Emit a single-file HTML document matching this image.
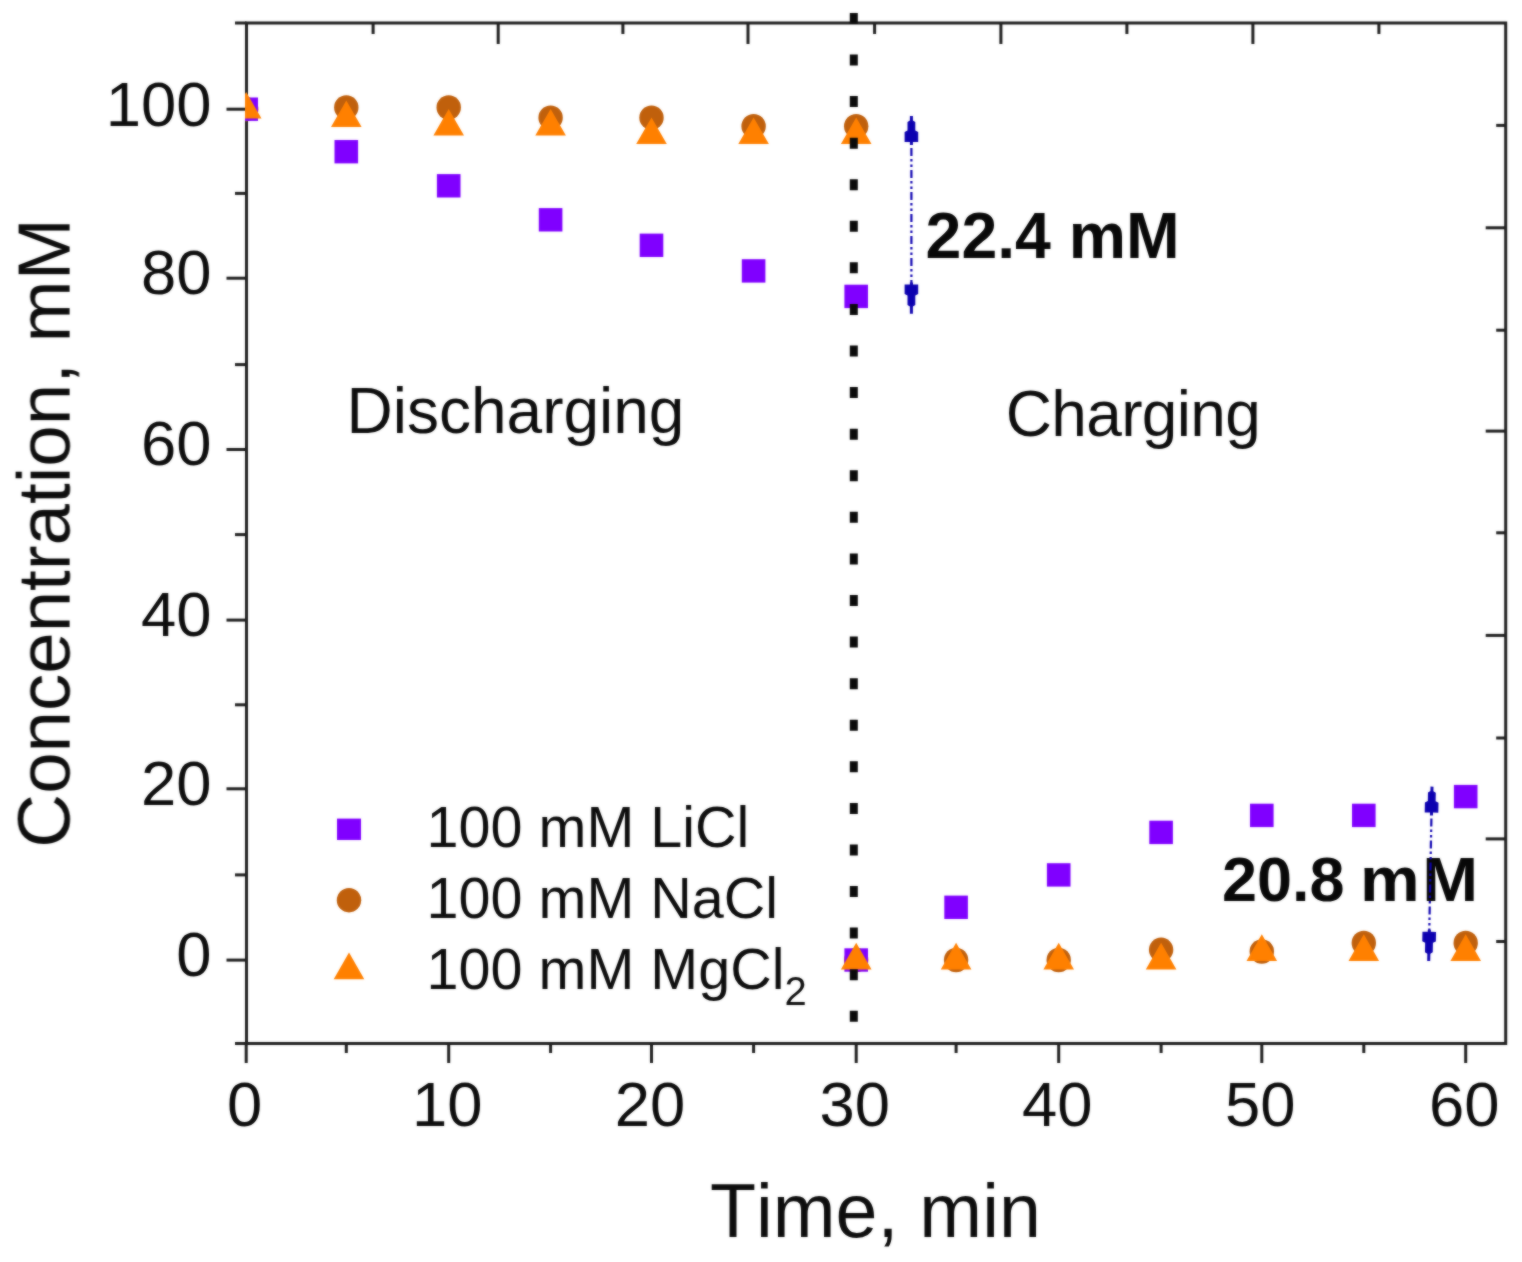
<!DOCTYPE html>
<html lang="en"><head><meta charset="utf-8"><title>Concentration vs Time</title>
<style>
html,body{margin:0;padding:0;background:#fff;}
body{width:1522px;height:1262px;overflow:hidden;}
svg{display:block;}
text{font-kerning:none;font-family:"Liberation Sans",Arial,Helvetica,sans-serif;fill:#0d0d0d;}
.tick{font-size:63.4px;}
.title{font-size:74.5px;}
.ann{font-size:64px;}
.bold{font-size:64.4px;font-weight:bold;fill:#080808;}
.leg{font-size:57.5px;}
</style></head><body>
<svg width="1522" height="1262" viewBox="0 0 1522 1262">
<rect width="1522" height="1262" fill="#ffffff"/>
<defs><filter id="soft" color-interpolation-filters="sRGB" x="0" y="0" width="1522" height="1262" filterUnits="userSpaceOnUse"><feGaussianBlur in="SourceGraphic" stdDeviation="0.9" result="b"/><feComposite in="b" in2="SourceGraphic" operator="arithmetic" k1="0" k2="0.55" k3="0.45" k4="0"/></filter><clipPath id="plot"><rect x="245.0" y="23.0" width="1260.7" height="1020.5"/></clipPath></defs>
<g filter="url(#soft)">

<g stroke="#1e1e1e" stroke-width="3" fill="none" stroke-linecap="butt">
<rect x="246.5" y="23.0" width="1259.2" height="1020.5"/>
<line x1="235.0" y1="1043.5" x2="246.5" y2="1043.5"/>
<line x1="226.5" y1="960.1" x2="246.5" y2="960.1"/>
<line x1="235.0" y1="874.9" x2="246.5" y2="874.9"/>
<line x1="226.5" y1="788.8" x2="246.5" y2="788.8"/>
<line x1="235.0" y1="704.8" x2="246.5" y2="704.8"/>
<line x1="226.5" y1="620.1" x2="246.5" y2="620.1"/>
<line x1="235.0" y1="534.6" x2="246.5" y2="534.6"/>
<line x1="226.5" y1="449.5" x2="246.5" y2="449.5"/>
<line x1="235.0" y1="364.6" x2="246.5" y2="364.6"/>
<line x1="226.5" y1="278.2" x2="246.5" y2="278.2"/>
<line x1="235.0" y1="193.4" x2="246.5" y2="193.4"/>
<line x1="226.5" y1="109.2" x2="246.5" y2="109.2"/>
<line x1="235.0" y1="23.0" x2="246.5" y2="23.0"/>
<line x1="246.2" y1="1043.5" x2="246.2" y2="1063.0"/>
<line x1="346.3" y1="1043.5" x2="346.3" y2="1053.0"/>
<line x1="448.7" y1="1043.5" x2="448.7" y2="1063.0"/>
<line x1="550.6" y1="1043.5" x2="550.6" y2="1053.0"/>
<line x1="651.5" y1="1043.5" x2="651.5" y2="1063.0"/>
<line x1="753.6" y1="1043.5" x2="753.6" y2="1053.0"/>
<line x1="856.2" y1="1043.5" x2="856.2" y2="1063.0"/>
<line x1="956.1" y1="1043.5" x2="956.1" y2="1053.0"/>
<line x1="1058.7" y1="1043.5" x2="1058.7" y2="1063.0"/>
<line x1="1161.1" y1="1043.5" x2="1161.1" y2="1053.0"/>
<line x1="1261.8" y1="1043.5" x2="1261.8" y2="1063.0"/>
<line x1="1363.8" y1="1043.5" x2="1363.8" y2="1053.0"/>
<line x1="1465.7" y1="1043.5" x2="1465.7" y2="1063.0"/>
<line x1="373.1" y1="23.0" x2="373.1" y2="34.0"/>
<line x1="498.2" y1="23.0" x2="498.2" y2="44.0"/>
<line x1="622.9" y1="23.0" x2="622.9" y2="34.0"/>
<line x1="748.0" y1="23.0" x2="748.0" y2="44.0"/>
<line x1="874.6" y1="23.0" x2="874.6" y2="34.0"/>
<line x1="1000.9" y1="23.0" x2="1000.9" y2="44.0"/>
<line x1="1126.9" y1="23.0" x2="1126.9" y2="34.0"/>
<line x1="1252.9" y1="23.0" x2="1252.9" y2="44.0"/>
<line x1="1378.9" y1="23.0" x2="1378.9" y2="34.0"/>
<line x1="1496.2" y1="125.4" x2="1505.7" y2="125.4"/>
<line x1="1485.7" y1="227.8" x2="1505.7" y2="227.8"/>
<line x1="1496.2" y1="330.2" x2="1505.7" y2="330.2"/>
<line x1="1485.7" y1="431.1" x2="1505.7" y2="431.1"/>
<line x1="1496.2" y1="532.8" x2="1505.7" y2="532.8"/>
<line x1="1485.7" y1="635.4" x2="1505.7" y2="635.4"/>
<line x1="1496.2" y1="738.0" x2="1505.7" y2="738.0"/>
<line x1="1485.7" y1="838.9" x2="1505.7" y2="838.9"/>
<line x1="1496.2" y1="941.5" x2="1505.7" y2="941.5"/>
</g>
<g clip-path="url(#plot)">
<circle cx="246.2" cy="109.2" r="12.2" fill="#c0600c"/>
<circle cx="346.3" cy="107.5" r="12.2" fill="#c0600c"/>
<circle cx="448.7" cy="107.5" r="12.2" fill="#c0600c"/>
<circle cx="550.6" cy="117.7" r="12.2" fill="#c0600c"/>
<circle cx="651.5" cy="117.7" r="12.2" fill="#c0600c"/>
<circle cx="753.6" cy="126.2" r="12.2" fill="#c0600c"/>
<circle cx="856.2" cy="126.2" r="12.2" fill="#c0600c"/>
<circle cx="856.2" cy="960.0" r="12.2" fill="#c0600c"/>
<circle cx="956.1" cy="960.0" r="12.2" fill="#c0600c"/>
<circle cx="1058.7" cy="960.0" r="12.2" fill="#c0600c"/>
<circle cx="1161.1" cy="949.8" r="12.2" fill="#c0600c"/>
<circle cx="1261.8" cy="951.5" r="12.2" fill="#c0600c"/>
<circle cx="1363.8" cy="943.0" r="12.2" fill="#c0600c"/>
<circle cx="1465.7" cy="943.0" r="12.2" fill="#c0600c"/>
<rect x="234.4" y="97.5" width="23.6" height="23.4" fill="#8000ff"/>
<rect x="334.5" y="140.0" width="23.6" height="23.4" fill="#8000ff"/>
<rect x="436.9" y="174.1" width="23.6" height="23.4" fill="#8000ff"/>
<rect x="538.8" y="208.1" width="23.6" height="23.4" fill="#8000ff"/>
<rect x="639.7" y="233.6" width="23.6" height="23.4" fill="#8000ff"/>
<rect x="741.8" y="259.2" width="23.6" height="23.4" fill="#8000ff"/>
<rect x="844.4" y="284.7" width="23.6" height="23.4" fill="#8000ff"/>
<rect x="844.4" y="948.3" width="23.6" height="23.4" fill="#8000ff"/>
<rect x="944.3" y="895.6" width="23.6" height="23.4" fill="#8000ff"/>
<rect x="1046.9" y="863.2" width="23.6" height="23.4" fill="#8000ff"/>
<rect x="1149.3" y="820.7" width="23.6" height="23.4" fill="#8000ff"/>
<rect x="1250.0" y="803.7" width="23.6" height="23.4" fill="#8000ff"/>
<rect x="1352.0" y="803.7" width="23.6" height="23.4" fill="#8000ff"/>
<rect x="1453.9" y="784.9" width="23.6" height="23.4" fill="#8000ff"/>
<polygon points="246.2,92.0 230.9,118.6 261.5,118.6" fill="#ff8000"/>
<polygon points="346.3,100.5 331.0,127.1 361.6,127.1" fill="#ff8000"/>
<polygon points="448.7,109.0 433.4,135.6 464.0,135.6" fill="#ff8000"/>
<polygon points="550.6,109.0 535.3,135.6 565.9,135.6" fill="#ff8000"/>
<polygon points="651.5,117.5 636.2,144.1 666.8,144.1" fill="#ff8000"/>
<polygon points="753.6,117.5 738.3,144.1 768.9,144.1" fill="#ff8000"/>
<polygon points="856.2,117.5 840.9,144.1 871.5,144.1" fill="#ff8000"/>
<polygon points="856.2,942.8 840.9,969.4 871.5,969.4" fill="#ff8000"/>
<polygon points="956.1,942.8 940.8,969.4 971.4,969.4" fill="#ff8000"/>
<polygon points="1058.7,942.8 1043.4,969.4 1074.0,969.4" fill="#ff8000"/>
<polygon points="1161.1,942.8 1145.8,969.4 1176.4,969.4" fill="#ff8000"/>
<polygon points="1261.8,934.3 1246.5,960.9 1277.1,960.9" fill="#ff8000"/>
<polygon points="1363.8,934.3 1348.5,960.9 1379.1,960.9" fill="#ff8000"/>
<polygon points="1465.7,934.3 1450.4,960.9 1481.0,960.9" fill="#ff8000"/>
</g>
<line x1="853.8" y1="12.9" x2="853.8" y2="1021.9" stroke="#0a0a0a" stroke-width="8" stroke-dasharray="11 30.578"/>
<text class="ann" x="346.5" y="432.5">Discharging</text>
<text class="ann" x="1005.7" y="436.4" letter-spacing="-0.65">Charging</text>
<text class="bold" x="925.6" y="258.3">22.4 mM</text>
<text class="bold" x="1221.9" y="900.6" style="font-size:63px">20.8</text>
<text class="bold" transform="translate(1360,900.6) scale(1.065,1)" style="font-size:63px">m</text>
<text class="bold" transform="translate(1422.2,900.6) scale(1.065,1)" style="font-size:63px">M</text>
<g transform="translate(911.4,116) rotate(0.000)"><line x1="0" y1="32" x2="0" y2="169.8" stroke="#0c00b0" stroke-width="2.2" stroke-dasharray="8 3 2.5 3 2.5 3"/><polygon fill="#0c00b0" points="-1.5,0.0 1.5,0.0 1.5,4.5 3.9,6.0 3.9,14.5 6.8,16.0 6.8,26.0 1.5,26.0 1.5,29.0 -1.5,29.0 -1.5,26.0 -6.8,26.0 -6.8,16.0 -3.9,14.5 -3.9,6.0 -1.5,4.5"/><polygon fill="#0c00b0" points="-1.5,197.8 1.5,197.8 1.5,190.6 3.9,189.1 3.9,179.6 6.8,178.1 6.8,168.6 1.5,168.6 1.5,166.6 -1.5,166.6 -1.5,168.6 -6.8,168.6 -6.8,178.1 -3.9,179.6 -3.9,189.1 -1.5,190.6"/></g>
<g transform="translate(1432,786.6) rotate(1.084)"><line x1="0" y1="32" x2="0" y2="146.4" stroke="#0c00b0" stroke-width="2.2" stroke-dasharray="8 3 2.5 3 2.5 3"/><polygon fill="#0c00b0" points="-1.5,0.0 1.5,0.0 1.5,4.5 3.9,6.0 3.9,14.5 6.8,16.0 6.8,26.0 1.5,26.0 1.5,29.0 -1.5,29.0 -1.5,26.0 -6.8,26.0 -6.8,16.0 -3.9,14.5 -3.9,6.0 -1.5,4.5"/><polygon fill="#0c00b0" points="-1.5,174.4 1.5,174.4 1.5,167.2 3.9,165.7 3.9,156.2 6.8,154.7 6.8,145.2 1.5,145.2 1.5,143.2 -1.5,143.2 -1.5,145.2 -6.8,145.2 -6.8,154.7 -3.9,156.2 -3.9,165.7 -1.5,167.2"/></g>
<text class="tick" x="211.5" y="976.0" text-anchor="end">0</text>
<text class="tick" x="211.5" y="804.7" text-anchor="end">20</text>
<text class="tick" x="211.5" y="636.4" text-anchor="end">40</text>
<text class="tick" x="211.5" y="465.2" text-anchor="end">60</text>
<text class="tick" x="211.5" y="294.4" text-anchor="end">80</text>
<text class="tick" x="211.5" y="126.1" text-anchor="end">100</text>
<text class="tick" x="244.7" y="1125.8" text-anchor="middle">0</text>
<text class="tick" x="447.2" y="1125.8" text-anchor="middle">10</text>
<text class="tick" x="650.0" y="1125.8" text-anchor="middle">20</text>
<text class="tick" x="854.7" y="1125.8" text-anchor="middle">30</text>
<text class="tick" x="1057.2" y="1125.8" text-anchor="middle">40</text>
<text class="tick" x="1260.3" y="1125.8" text-anchor="middle">50</text>
<text class="tick" x="1464.2" y="1125.8" text-anchor="middle">60</text>
<text class="title" x="875.4" y="1236.6" text-anchor="middle" style="font-size:75.4px">Time, min</text>
<text class="title" transform="translate(69.6,533) rotate(-90)" text-anchor="middle">Concentration, mM</text>
<rect x="337.0" y="818.6" width="24" height="21.4" fill="#8000ff"/>
<circle cx="349.0" cy="900.2" r="12.2" fill="#c0600c"/>
<polygon points="349.0,952.6 333.7,979.2 364.3,979.2" fill="#ff8000"/>
<text class="leg" x="426.6" y="846.7">100 mM LiCl</text>
<text class="leg" x="426.6" y="918">100 mM NaCl</text>
<text class="leg" x="426.6" y="989.2">100 mM MgCl<tspan font-size="40" dy="16">2</tspan></text>
</g></svg></body></html>
